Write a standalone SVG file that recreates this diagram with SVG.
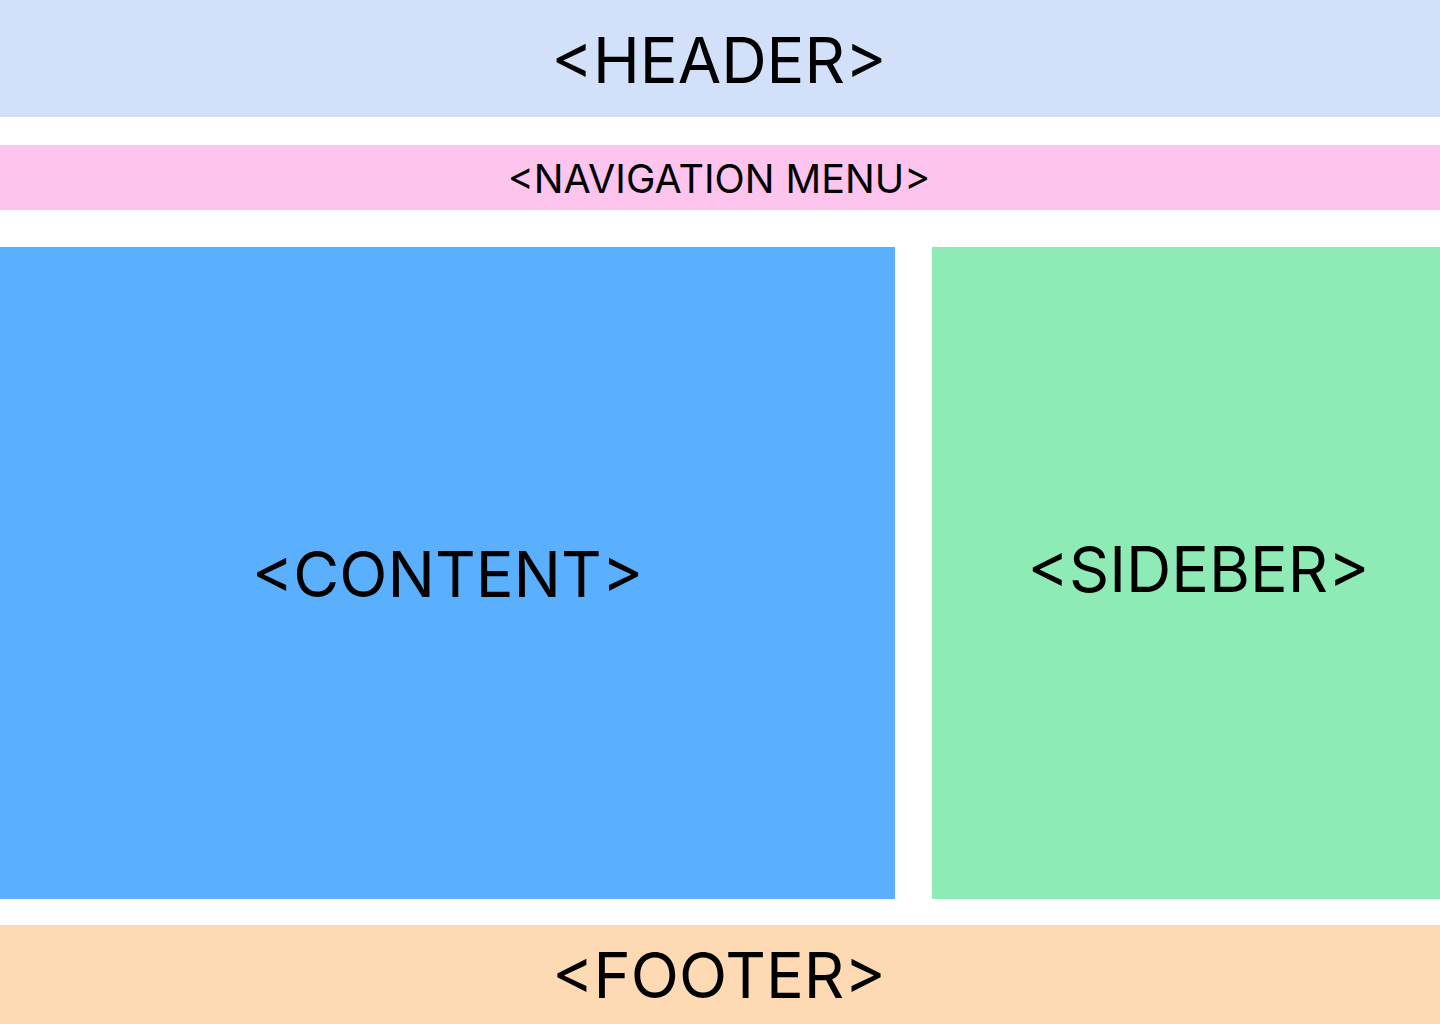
<svg xmlns="http://www.w3.org/2000/svg" width="1440" height="1024" viewBox="0 0 1440 1024">
<style>
text{font-family:Inter,"Noto Sans","Liberation Sans",sans-serif;fill:#000;text-anchor:middle}
.big{font-size:63px}
.mid{font-size:63px}
.side{font-size:62.7px}
.nav{font-size:39.5px}
</style>
<rect x="0" y="0" width="1440" height="1024" fill="#fff"/>
<g id="header"><rect x="0" y="0" width="1440" height="117" fill="#D3E0FA"/><text class="big" x="719" y="83">&lt;HEADER&gt;</text></g>
<g id="nav"><rect x="0" y="145" width="1440" height="65" fill="#FDC5EE"/><text class="nav" x="719" y="193">&lt;NAVIGATION MENU&gt;</text></g>
<g id="content"><rect x="0" y="247" width="895" height="652" fill="#5AB0FC"/><text class="mid" x="447.5" y="597">&lt;CONTENT&gt;</text></g>
<g id="sidebar"><rect x="932" y="247" width="508" height="652" fill="#8EEBB6"/><text class="side" x="1198.5" y="592">&lt;SIDEBER&gt;</text></g>
<g id="footer"><rect x="0" y="925" width="1440" height="99" fill="#FEDAB4"/><text class="big" x="719" y="998">&lt;FOOTER&gt;</text></g>
<g id="connectors"/>
</svg>
